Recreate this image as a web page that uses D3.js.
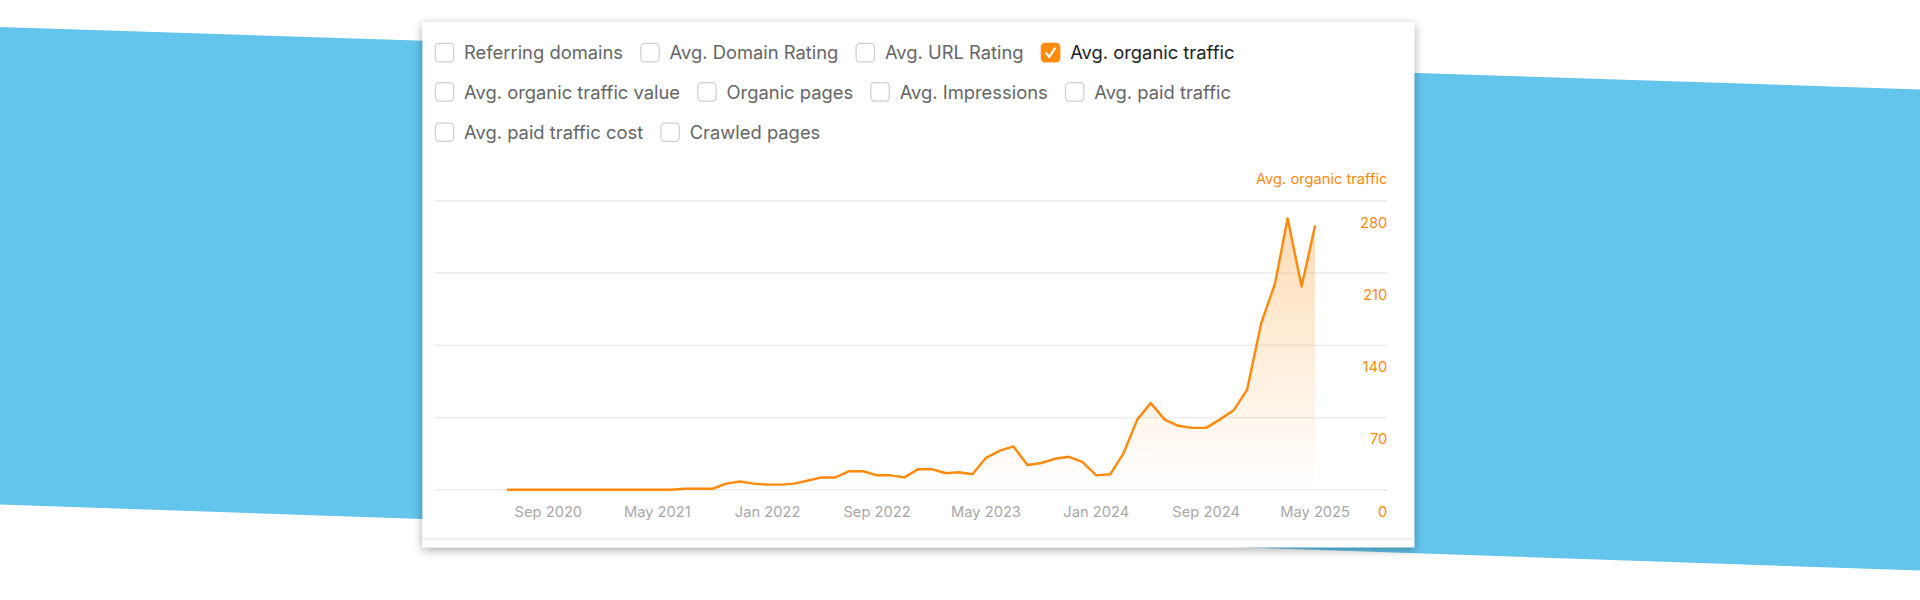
<!DOCTYPE html>
<html>
<head>
<meta charset="utf-8">
<script src="https://cdn.jsdelivr.net/npm/d3@7"></script>
<style>
  html, body { margin: 0; padding: 0; background: #fff; overflow: hidden; }
  svg { display: block; font-family: Inter, "Noto Sans", sans-serif; }
</style>
</head>
<body>
<script>
// monthly values, Jun 2020 .. May 2025
var months = d3.timeMonths(new Date(2020, 5, 1), new Date(2025, 5, 1));
var traffic = [0,0,0,0,0,0,0,0,0,0,0,0,0,1,1,1,6,8,6,5,
               5,6,9,12,12,18,18,14,14,12,20,20,16,17,15,31,38,42,24,26,
               30,32,27,14,15,35,68,84,68,62,60,60,68,77,97,161,200,263,197,256];
var yTicks = [0, 70, 140, 210, 280];
var xTickDates = [new Date(2020,8,1), new Date(2021,4,1), new Date(2022,0,1), new Date(2022,8,1),
                  new Date(2023,4,1), new Date(2024,0,1), new Date(2024,8,1), new Date(2025,4,1)];
var legendRows = [
  [["Referring domains", false], ["Avg. Domain Rating", false], ["Avg. URL Rating", false], ["Avg. organic traffic", true]],
  [["Avg. organic traffic value", false], ["Organic pages", false], ["Avg. Impressions", false], ["Avg. paid traffic", false]],
  [["Avg. paid traffic cost", false], ["Crawled pages", false]]
];

var orange = "#ff8a0c";

var svg = d3.select("body").append("svg")
  .attr("width", 1920).attr("height", 600)
  .attr("viewBox", "0 0 1568 490");

var defs = svg.append("defs");
var sh = defs.append("filter").attr("id", "sh").attr("x", "-10%").attr("y", "-10%").attr("width", "120%").attr("height", "120%");
sh.append("feDropShadow").attr("dx", 0).attr("dy", 2).attr("stdDeviation", 4).attr("flood-color", "#000").attr("flood-opacity", 0.35);
var grad = defs.append("linearGradient").attr("id", "fill").attr("x1", 0).attr("y1", 0).attr("x2", 0).attr("y2", 1);
grad.append("stop").attr("offset", "0%").attr("stop-color", orange).attr("stop-opacity", 0.3);
grad.append("stop").attr("offset", "100%").attr("stop-color", orange).attr("stop-opacity", 0);

// blue band behind
svg.append("polygon")
  .attr("points", "0,22 1568,73 1568,466 0,412")
  .attr("fill", "#63c4ec");

// card
svg.append("rect").attr("x", 345).attr("y", 18).attr("width", 810).attr("height", 429)
  .attr("fill", "#fff").attr("filter", "url(#sh)");
svg.append("line").attr("x1", 345).attr("x2", 1155).attr("y1", 440).attr("y2", 440)
  .attr("stroke", "#ececec").attr("stroke-width", 1.5);

// checkbox legend
var rowY = [43, 75, 108];
legendRows.forEach(function(row, ri) {
  var x = 355;
  row.forEach(function(item) {
    var g = svg.append("g").attr("transform", "translate(" + x + "," + rowY[ri] + ")");
    g.append("rect").attr("x", 0.5).attr("y", -7.5).attr("width", 15).attr("height", 15).attr("rx", 3)
      .attr("fill", item[1] ? orange : "#fff")
      .attr("stroke", item[1] ? orange : "#cfcfcf").attr("stroke-width", 1);
    if (item[1]) {
      g.append("path").attr("d", "M4.5,0.5 L7,3.5 L11.5,-3.5").attr("fill", "none")
        .attr("stroke", "#fff").attr("stroke-width", 1.8).attr("stroke-linecap", "round").attr("stroke-linejoin", "round");
    }
    var t = g.append("text").attr("x", 24).attr("y", 5.5).attr("font-size", 15)
      .attr("fill", item[1] ? "#222" : "#666").text(item[0]);
    x += 24 + t.node().getComputedTextLength() + 14;
  });
});

// chart
var x = d3.scaleTime().domain([new Date(2020,5,1), new Date(2025,4,1)]).range([414, 1074]);
var y = d3.scaleLinear().domain([0, 280]).range([400, 164]);

svg.append("g").selectAll("line").data(yTicks).join("line")
  .attr("x1", 355).attr("x2", 1133).attr("y1", d => y(d)).attr("y2", d => y(d))
  .attr("stroke", "#ededed").attr("stroke-width", 1.5);

svg.append("g").selectAll("text").data(yTicks).join("text")
  .attr("x", 1133).attr("y", d => y(d) + 22).attr("text-anchor", "end")
  .attr("font-size", 12).attr("fill", orange).text(d => d);

svg.append("text").attr("x", 1133).attr("y", 150).attr("text-anchor", "end")
  .attr("font-size", 12).attr("fill", orange).text("Avg. organic traffic");

var fmt = d3.timeFormat("%b %Y");
svg.append("g").selectAll("text").data(xTickDates).join("text")
  .attr("x", d => x(d)).attr("y", 422).attr("text-anchor", "middle")
  .attr("font-size", 12).attr("fill", "#a8a8a8").text(d => fmt(d));

var pts = months.map((m, i) => [m, traffic[i]]);
svg.append("path").datum(pts)
  .attr("fill", "url(#fill)")
  .attr("d", d3.area().x(d => x(d[0])).y0(y(0)).y1(d => y(d[1])));
svg.append("path").datum(pts)
  .attr("fill", "none").attr("stroke", orange).attr("stroke-width", 2).attr("stroke-linejoin", "round")
  .attr("d", d3.line().x(d => x(d[0])).y(d => y(d[1])));
</script>
</body>
</html>
